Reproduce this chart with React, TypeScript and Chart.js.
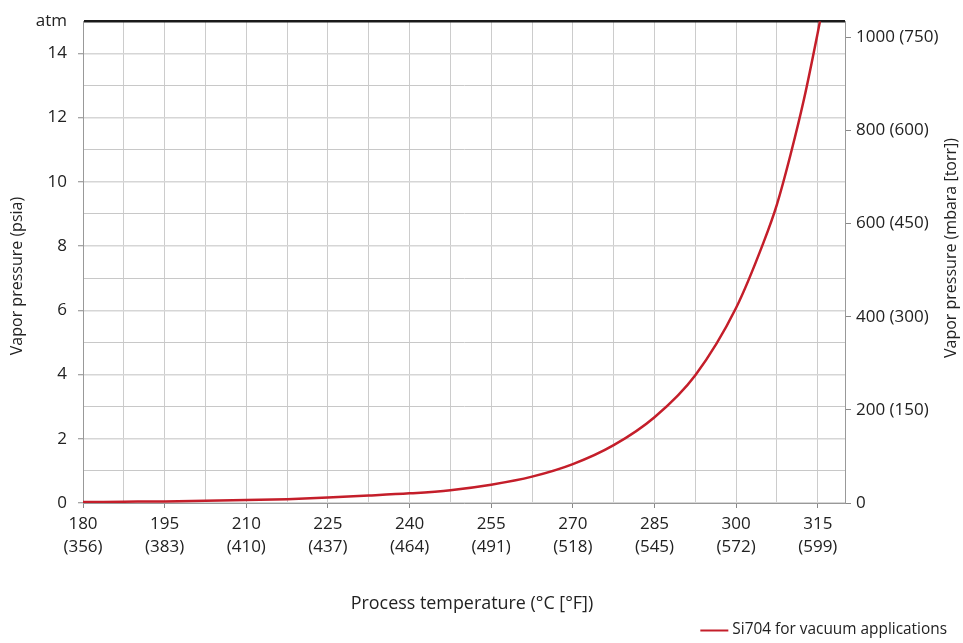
import { useEffect, useRef } from 'react';
import { Chart, registerables } from 'chart.js';

Chart.register(...registerables);

// ---- data ----
const temperaturesC = [180, 187.5, 195, 202.5, 210, 217.5, 225, 232.5, 240, 247.5, 255, 262.5, 270, 277.5, 285, 292.5, 300, 305, 307.5, 310, 312.5, 315, 315.4];
const pressurePsia = [0.03, 0.04, 0.05, 0.07, 0.09, 0.12, 0.17, 0.23, 0.3, 0.4, 0.57, 0.82, 1.21, 1.8, 2.67, 3.98, 6.08, 8.1, 9.3, 10.85, 12.6, 14.65, 15.0];

const xTickC = [180, 195, 210, 225, 240, 255, 270, 285, 300, 315];
const xTickF = [356, 383, 410, 437, 464, 491, 518, 545, 572, 599];
const mbarTicks = [0, 200, 400, 600, 800, 1000];
const torrTicks = [0, 150, 300, 450, 600, 750];

const seriesLabel = 'Si704 for vacuum applications';
const xTitle = 'Process temperature (°C [°F])';
const yTitle = 'Vapor pressure (psia)';
const y2Title = 'Vapor pressure (mbara [torr])';
const topLabel = 'atm';

const PSI_TO_MBAR = 68.948;
const RED = '#c41e2a';
const TEXT = '#222222';
const FONT = "'Open Sans', 'DejaVu Sans', sans-serif";
const TICK_FS = 17;

const overlay = {
  id: 'overlay',
  afterDraw(chart: any) {
    const { ctx } = chart;
    ctx.save();
    ctx.fillStyle = TEXT;
    ctx.font = `16px ${FONT}`;
    ctx.textAlign = 'center';
    ctx.textBaseline = 'middle';
    // left title
    ctx.save();
    ctx.translate(17, 276);
    ctx.rotate(-Math.PI / 2);
    ctx.fillText(yTitle, 0, 0);
    ctx.restore();
    // right title
    ctx.save();
    ctx.translate(951, 248);
    ctx.rotate(-Math.PI / 2);
    ctx.fillText(y2Title, 0, 0);
    ctx.restore();
    // x title
    ctx.font = `17.9px ${FONT}`;
    ctx.fillText(xTitle, 472, 604);
    // legend
    const ds = chart.data.datasets[0];
    ctx.font = `15.4px ${FONT}`;
    ctx.textAlign = 'right';
    const tx = 947;
    const ty = 630;
    ctx.fillText(ds.label, tx, ty);
    const w = ctx.measureText(ds.label).width;
    ctx.strokeStyle = ds.borderColor;
    ctx.lineWidth = 2;
    ctx.beginPath();
    ctx.moveTo(tx - w - 32, ty + 0.5);
    ctx.lineTo(tx - w - 4, ty + 0.5);
    ctx.stroke();
    ctx.restore();
  },
};

export default function App() {
  const ref = useRef<HTMLCanvasElement>(null);
  useEffect(() => {
    const canvas = ref.current!;
    const chart = new Chart(canvas, {
      type: 'line',
      data: {
        datasets: [
          {
            label: seriesLabel,
            data: temperaturesC.map((t, i) => ({ x: t, y: pressurePsia[i] })),
            borderColor: RED,
            backgroundColor: RED,
            borderWidth: 2.5,
            pointRadius: 0,
            cubicInterpolationMode: 'monotone',
            xAxisID: 'x',
            yAxisID: 'y',
          },
        ],
      },
      options: {
        responsive: false,
        animation: false,
        layout: { padding: { top: 18 } },
        plugins: { legend: { display: false }, tooltip: { enabled: false } },
        scales: {
          x: {
            type: 'linear',
            position: 'bottom',
            min: 180,
            max: 320,
            afterFit: (s: any) => {
              s.height = 140;
            },
            ticks: {
              stepSize: 7.5,
              includeBounds: false,
              autoSkip: false,
              maxRotation: 0,
              padding: 5,
              color: TEXT,
              font: { family: FONT, size: TICK_FS, lineHeight: 1.35 },
              callback: (v: any) => {
                const i = xTickC.indexOf(Number(v));
                return i >= 0 ? [String(xTickC[i]), `(${xTickF[i]})`] : '';
              },
            },
            grid: {
              color: '#cccccc',
              lineWidth: 1,
              tickLength: 5,
              tickColor: (c: any) => (xTickC.indexOf(c.tick?.value) >= 0 ? '#888888' : 'rgba(0,0,0,0)'),
            },
            border: { color: '#999999', width: 1 },
          },
          y: {
            type: 'linear',
            position: 'left',
            min: 0,
            max: 15,
            afterFit: (s: any) => {
              s.width = 83;
            },
            ticks: {
              stepSize: 1,
              autoSkip: false,
              padding: 11,
              color: TEXT,
              font: { family: FONT, size: TICK_FS },
              callback: (v: any) => {
                const n = Number(v);
                if (n === 15) return topLabel;
                return n % 2 === 0 ? String(n) : '';
              },
            },
            grid: {
              color: (c: any) => {
                const v = c.tick?.value;
                if (v === 15) return '#1a1a1a';
                return v % 2 === 0 ? '#d6d6d6' : '#c8c8c8';
              },
              lineWidth: (c: any) => {
                const v = c.tick?.value;
                if (v === 15) return 2.5;
                return v % 2 === 0 ? 1.5 : 1;
              },
              tickLength: 5,
              tickColor: (c: any) => {
                const v = c.tick?.value;
                return v !== 15 && v % 2 === 0 ? '#888888' : 'rgba(0,0,0,0)';
              },
              tickWidth: 1,
            },
            border: { color: '#999999', width: 1 },
          },
          y2: {
            type: 'linear',
            position: 'right',
            min: 0,
            max: 15 * PSI_TO_MBAR,
            afterFit: (s: any) => {
              s.width = 118;
            },
            afterBuildTicks: (s: any) => {
              s.ticks = mbarTicks.map((v) => ({ value: v }));
            },
            ticks: {
              autoSkip: false,
              padding: 5,
              color: TEXT,
              font: { family: FONT, size: TICK_FS },
              callback: (v: any) => {
                const i = mbarTicks.indexOf(Number(v));
                if (i < 0) return '';
                return i === 0 ? '0' : `${mbarTicks[i]} (${torrTicks[i]})`;
              },
            },
            grid: { drawOnChartArea: false, tickLength: 6, tickColor: '#888888' },
            border: { color: '#999999', width: 1 },
          },
        },
      },
      plugins: [overlay],
    } as any);
    return () => chart.destroy();
  }, []);
  return (
    <div style={{ position: 'fixed', left: 0, top: 0, width: 963, height: 643, background: '#fff' }}>
      <canvas ref={ref} width={963} height={643} style={{ display: 'block', width: 963, height: 643 }} />
    </div>
  );
}
